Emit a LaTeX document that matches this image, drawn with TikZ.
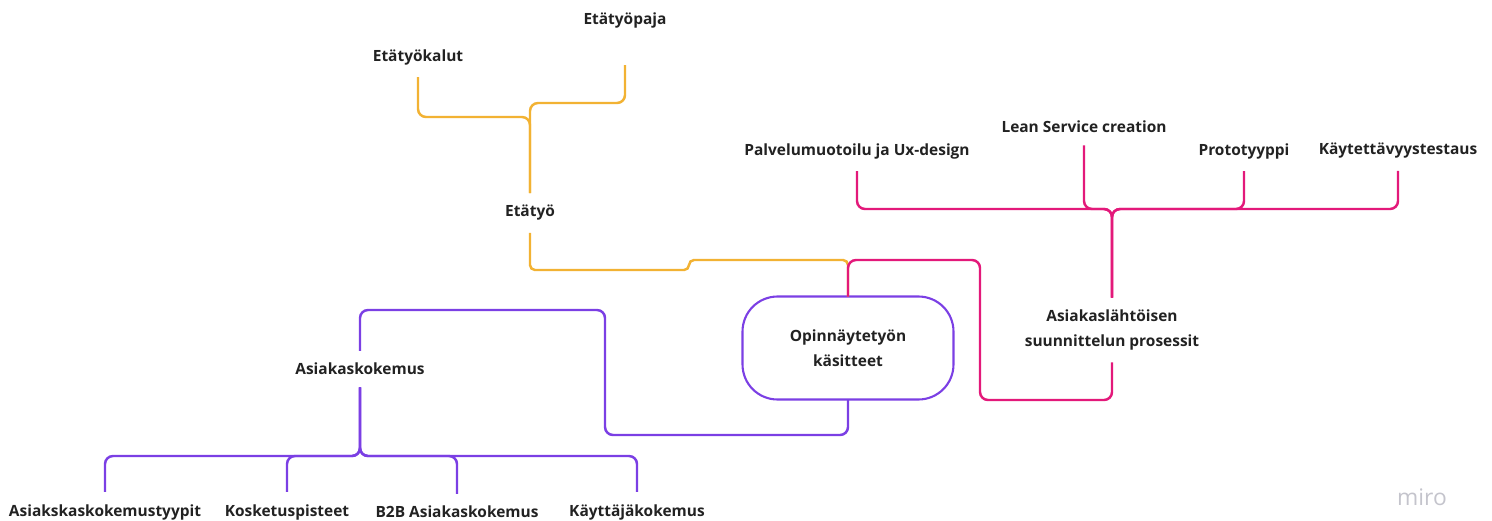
\documentclass[tikz,border=0pt]{standalone}
\usepackage{fontspec}
\setmainfont{Open Sans}
\usepackage{tikz}
\usetikzlibrary{calc}
\definecolor{ink}{HTML}{222222}
\definecolor{yel}{HTML}{F2B233}
\definecolor{pnk}{HTML}{E3197A}
\definecolor{pur}{HTML}{7B3FE4}
\definecolor{logo}{HTML}{C4C4CC}
\tikzset{
  yel/.style={draw=yel, line width=1.4pt, rounded corners=0.16cm},
  pnk/.style={draw=pnk, line width=1.4pt, rounded corners=0.16cm},
  pur/.style={draw=pur, line width=1.4pt, rounded corners=0.16cm},
  lab/.style={text=ink, font=\fontsize{8.8}{14}\selectfont\bfseries, inner sep=1pt, outer ysep=6pt, align=center},
  hub/.style={draw=pur, line width=1.2pt, rounded corners=0.7cm, minimum width=4.22cm, minimum height=2.06cm, lab, outer ysep=0pt}
}

\begin{document}
\begin{tikzpicture}[x=0.02cm, y=-0.02cm]
  \useasboundingbox (0,0) rectangle (1492,521);

  \node[hub] (core) at (848,348) {Opinnäytetyön\\käsitteet};

  % yellow
  \node[lab] (etatyo) at (530,213) {Etätyö};
  \node[lab] (kalut) at (418,57) {Etätyökalut};
  \node[lab] (paja) at (625,20) {Etätyöpaja};
  \coordinate (yj1) at (530,117);
  \coordinate (yj2) at (530,103);
  \draw[yel] (kalut.south) |- (yj1) -- (etatyo.north);
  \draw[yel] ([yshift=-0.5cm]paja.south) |- (yj2) -- (etatyo.north);
  \draw[yel, rounded corners=0.1cm] (etatyo.south) |- (689,270) -- (689,260) -| (core.north);

  % pink
  \node[lab] (proc) at (1112,330) {Asiakaslähtöisen\\suunnittelun prosessit};
  \node[lab] (palvelu) at (857,151) {Palvelumuotoilu ja Ux-design};
  \node[lab] (lean) at (1084,127) {Lean Service creation};
  \node[lab] (proto) at (1244,151) {Prototyyppi};
  \node[lab] (testaus) at (1398,151) {Käytettävyystestaus};
  \coordinate (pj) at (1112,209);
  \draw[pnk] (core.north) |- (980,260) -- (980,400) -| (proc.south);
  \foreach \n in {palvelu,lean,proto,testaus}
    \draw[pnk] (proc.north) -- (pj) -| (\n.south);

  % purple
  \node[lab] (ask) at (360,369) {Asiakaskokemus};
  \node[lab] (tyypit) at (105,512) {Asiakskaskokemustyypit};
  \node[lab] (koske) at (287,512) {Kosketuspisteet};
  \node[lab] (btob) at (457,512) {B2B Asiakaskokemus};
  \node[lab] (kayt) at (637,512) {Käyttäjäkokemus};
  \coordinate (aj) at (360,456);
  \draw[pur] (core.south) |- (605,435) -- (605,310) -| (ask.north);
  \foreach \n in {tyypit,koske,btob,kayt}
    \draw[pur] (ask.south) -- (aj) -| (\n.north);

  \node[text=logo, font=\fontsize{13}{15}\selectfont] (miro) at (1422,497) {miro};
\end{tikzpicture}
\end{document}
